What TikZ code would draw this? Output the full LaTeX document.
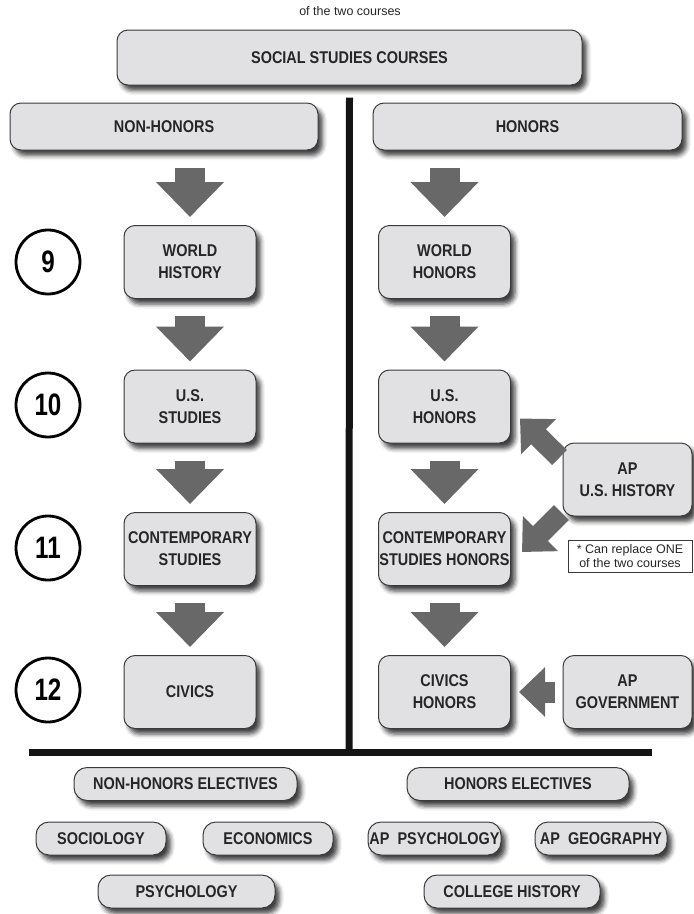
\documentclass[tikz,border=0pt]{standalone}
\usepackage{fontspec}
\setmainfont{Liberation Sans}
\newfontfamily\condfont{Liberation Sans}[FakeStretch=0.85]
\newfontfamily\digitfont{Liberation Sans}[FakeStretch=0.78]
\usetikzlibrary{calc,arrows.meta,shadows.blur}
\definecolor{boxfill}{HTML}{E1E1E3}
\definecolor{boxline}{HTML}{3A3A3A}
\definecolor{arrowgray}{HTML}{686868}
\definecolor{inkgray}{HTML}{262626}
\tikzset{
  course/.style={draw=boxline, fill=boxfill, line width=1pt, rounded corners=11pt,
    minimum width=132pt, minimum height=73pt, inner sep=0pt, align=center,
    text=inkgray, font=\condfont\bfseries\fontsize{17}{22}\selectfont,
    blur shadow={shadow xshift=4.5pt, shadow yshift=-5.5pt, shadow blur radius=4.5pt, shadow opacity=75}},
  elective/.style={course, rounded corners=13pt, minimum height=33pt},
  grade/.style={circle, draw=black, line width=2.8pt, minimum size=64pt, inner sep=0pt,
    font=\digitfont\bfseries\fontsize{31}{31}\selectfont},
  note/.style={font=\fontsize{12.5}{14}\selectfont, align=center, inner sep=0pt, text=inkgray},
  bigarrow/.style={draw=arrowgray, line width=30pt, -{Triangle[width=66pt,length=35pt]},
    shorten <=17pt, shorten >=8pt},
  sidearrow/.style={draw=arrowgray, line width=21pt, -{Triangle[width=48pt,length=26pt]}},
  divider/.style={line width=7pt, draw=black!92}
}
\begin{document}
\begin{tikzpicture}[x=1pt,y=-1pt]
  \useasboundingbox (0,0) rectangle (694,914);
  \node[note] (topnote) at (350,11) {of the two courses};
  \node[course, minimum width=465pt, minimum height=55pt] (ssc) at (349.5,57.5) {SOCIAL STUDIES COURSES};
  \coordinate (split) at (349,752);
  \coordinate (hl) at (29,752);
  \coordinate (hr) at (652,752);
  \draw[divider] ($(ssc.south)+(0,12)$) -- (split);
  \draw[divider] (hl) -- (hr);
  \node[course, minimum width=308pt, minimum height=47pt] (nh) at (164,126.5) {NON-HONORS};
  \node[course, minimum width=309pt, minimum height=47pt] (hon) at (527.5,126.5) {HONORS};

  \node[grade] (g9) at (48,262) {9};
  \node[grade] (g10) at (48,405) {10};
  \node[grade] (g11) at (48,548) {11};
  \node[grade] (g12) at (48,690) {12};

  \node[course] (wh) at (190,262) {WORLD\\HISTORY};
  \node[course] (uss) at (190,406.5) {U.S.\\STUDIES};
  \node[course] (cs) at (190,549) {CONTEMPORARY\\STUDIES};
  \node[course] (civ) at (190,692) {CIVICS};
  \node[course] (wdh) at (444.5,262) {WORLD\\HONORS};
  \node[course] (ush) at (444.5,406.5) {U.S.\\HONORS};
  \node[course] (csh) at (444.5,549) {CONTEMPORARY\\STUDIES HONORS};
  \node[course] (cih) at (444.5,692) {CIVICS\\HONORS};
  \node[course, minimum width=129pt] (apush) at (627.5,479.5) {AP\\U.S. HISTORY};
  \node[course, minimum width=129pt] (apgov) at (627.5,692) {AP\\GOVERNMENT};
  \node[note, draw=boxline, line width=.6pt, minimum width=124pt, minimum height=32pt] (repl) at (630,556)
    {* Can replace ONE\\of the two courses};

  \draw[bigarrow] (nh.south -| wh.north) -- (wh.north);
  \draw[bigarrow] (wh) -- (uss);
  \draw[bigarrow] (uss) -- (cs);
  \draw[bigarrow] (cs) -- (civ);
  \draw[bigarrow] (hon.south -| wdh.north) -- (wdh.north);
  \draw[bigarrow] (wdh) -- (ush);
  \draw[bigarrow] (ush) -- (csh);
  \draw[bigarrow] (csh) -- (cih);
  \draw[sidearrow] ($(apush.north west)+(-3,15)$) -- ($(ush.south east)+(9,-25)$);
  \draw[sidearrow] ($(apush.south west)+(-1,-4)$) -- ($(csh.east)+(11,3)$);
  \draw[sidearrow, shorten <=8pt, shorten >=8pt] (apgov.west) -- (cih.east);

  \node[elective, minimum width=223pt] (nhe) at (185.5,784) {NON-HONORS ELECTIVES};
  \node[elective, minimum width=130pt] (soc) at (101,838.5) {SOCIOLOGY};
  \node[elective, minimum width=130pt] (eco) at (268,838.5) {ECONOMICS};
  \node[elective, minimum width=177pt] (psy) at (186.5,891.5) {PSYCHOLOGY};
  \node[elective, minimum width=222pt] (he) at (518,784) {HONORS ELECTIVES};
  \node[elective, minimum width=133pt] (appsy) at (434.5,838.5) {AP\ \ PSYCHOLOGY};
  \node[elective, minimum width=132pt] (apgeo) at (601,838.5) {AP\ \ GEOGRAPHY};
  \node[elective, minimum width=176pt] (colh) at (512,891.5) {COLLEGE HISTORY};
\end{tikzpicture}
\end{document}
